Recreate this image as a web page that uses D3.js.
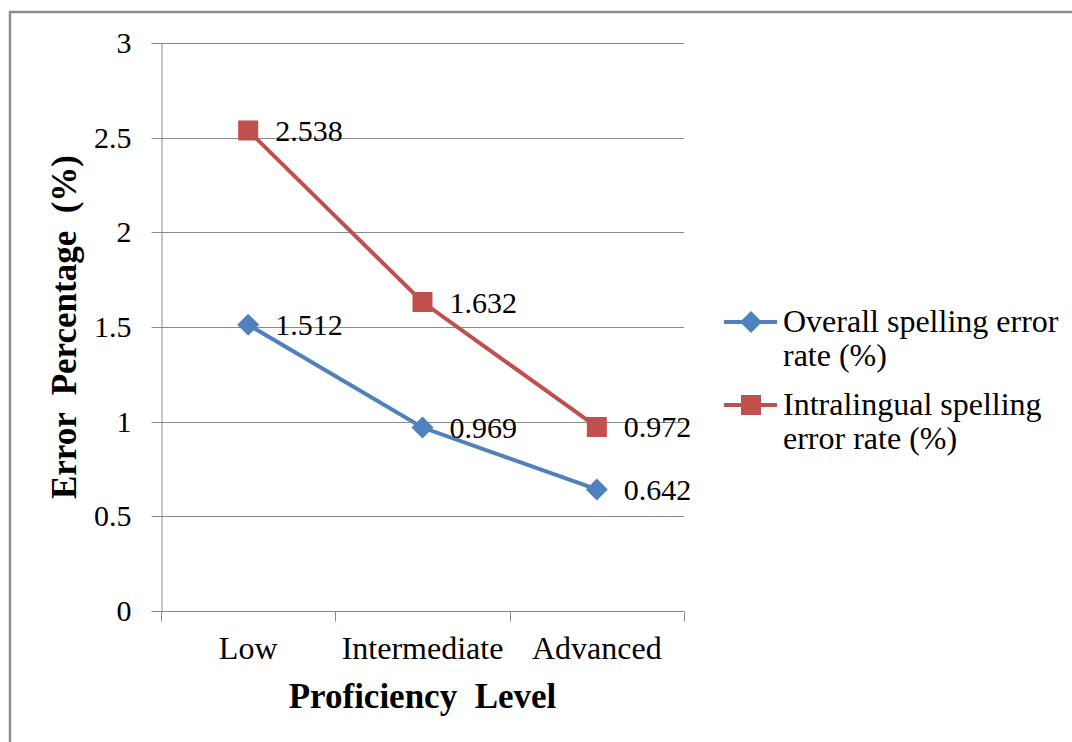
<!DOCTYPE html>
<html>
<head>
<meta charset="utf-8">
<script src="https://cdn.jsdelivr.net/npm/d3@7/dist/d3.min.js"></script>
<style>
  html, body { margin: 0; padding: 0; background: #fff; }
  svg { display: block; }
  text { font-family: "Liberation Serif", "Times New Roman", serif; fill: #000; }
</style>
</head>
<body>
<svg id="chart" width="1072" height="742"></svg>
<script>
const categories = ["Low", "Intermediate", "Advanced"];
const overallValues = [1.512, 0.969, 0.642];
const intralingualValues = [2.538, 1.632, 0.972];
const yTicks = [0, 0.5, 1, 1.5, 2, 2.5, 3];
const yTickLabels = ["0", "0.5", "1", "1.5", "2", "2.5", "3"];
const seriesNames = [["Overall spelling error", "rate (%)"], ["Intralingual spelling", "error rate (%)"]];
const xTitle = "Proficiency  Level";
const yTitle = "Error  Percentage  (%)";

(function () {
const svg = d3.select("#chart");
const W = 1072, H = 742;
const pLeft = 161, pRight = 684, pTop = 43, pBottom = 611;
const blue = "#4F81BD", red = "#C0504D", grid = "#8a8a8a";

svg.append("rect").attr("x", 10).attr("y", 12).attr("width", W + 20).attr("height", H + 20)
  .attr("fill", "#fff").attr("stroke", "#8c8c8c").attr("stroke-width", 2.5);

const x = d3.scaleBand().domain(categories).range([pLeft, pRight]).padding(0);
const y = d3.scaleLinear().domain([0, 3]).range([pBottom, pTop]);

// gridlines
svg.append("g").selectAll("line").data(yTicks.filter(d => d > 0)).join("line")
  .attr("x1", pLeft).attr("x2", pRight)
  .attr("y1", d => Math.round(y(d)) + 0.5).attr("y2", d => Math.round(y(d)) + 0.5)
  .attr("stroke", grid).attr("stroke-width", 1);

// y axis
const yAxis = d3.axisLeft(y).tickValues(yTicks).tickFormat((d, i) => yTickLabels[i]).tickSize(10).tickPadding(20);
const gy = svg.append("g").attr("transform", `translate(${pLeft + 0.5},0)`).call(yAxis);
gy.select(".domain").attr("stroke", grid);
gy.selectAll(".tick line").attr("stroke", grid);
gy.selectAll(".tick").attr("transform", d => `translate(0,${Math.round(y(d)) + 0.5})`);
gy.selectAll("text").attr("font-size", 30).attr("font-family", "Liberation Serif").attr("fill", "#000");

// x axis
const gx = svg.append("g").attr("transform", `translate(0,${pBottom + 0.5})`);
gx.append("line").attr("x1", pLeft).attr("x2", pRight).attr("stroke", grid);
const xTickPos = categories.map(c => x(c)).concat([x(categories[categories.length - 1]) + x.bandwidth()]);
gx.selectAll("line.tk").data(xTickPos).join("line").attr("class", "tk")
  .attr("x1", d => Math.round(d) + 0.5).attr("x2", d => Math.round(d) + 0.5)
  .attr("y1", 0).attr("y2", 10).attr("stroke", grid);
gx.selectAll("text").data(categories).join("text")
  .attr("x", d => x(d) + x.bandwidth() / 2).attr("y", 47)
  .attr("text-anchor", "middle").attr("font-size", 32).text(d => d);

// axis titles
svg.append("text").attr("x", (pLeft + pRight) / 2).attr("y", 708)
  .attr("text-anchor", "middle").attr("font-size", 35).attr("font-weight", "bold")
  .style("white-space", "pre").text(xTitle);
svg.append("text").attr("transform", `translate(76,${(pTop + pBottom) / 2}) rotate(-90)`)
  .attr("text-anchor", "middle").attr("font-size", 35).attr("font-weight", "bold")
  .style("white-space", "pre").text(yTitle);

const series = [
  { name: seriesNames[0], values: overallValues, color: blue, shape: "diamond" },
  { name: seriesNames[1], values: intralingualValues, color: red, shape: "square" }
];

const line = d3.line().x((d, i) => x(categories[i]) + x.bandwidth() / 2).y(d => y(d));

function marker(g, shape, color) {
  if (shape === "diamond") {
    g.append("path").attr("d", "M0,-11L11,0L0,11L-11,0Z").attr("fill", color);
  } else {
    g.append("rect").attr("x", -10).attr("y", -10).attr("width", 20).attr("height", 20).attr("fill", color);
  }
}

series.forEach(s => {
  svg.append("path").datum(s.values).attr("d", line)
    .attr("fill", "none").attr("stroke", s.color).attr("stroke-width", 4);
  s.values.forEach((v, i) => {
    const px = x(categories[i]) + x.bandwidth() / 2, py = y(v);
    const g = svg.append("g").attr("transform", `translate(${px},${py})`);
    marker(g, s.shape, s.color);
    svg.append("text").attr("x", px + 27).attr("y", py).attr("dy", "0.35em")
      .attr("font-size", 30).text(v.toFixed(3));
  });
});

// legend
const legY = [322, 405];
series.forEach((s, k) => {
  const ly = legY[k];
  svg.append("line").attr("x1", 724).attr("x2", 777).attr("y1", ly).attr("y2", ly)
    .attr("stroke", s.color).attr("stroke-width", 4);
  const g = svg.append("g").attr("transform", `translate(751,${ly})`);
  marker(g, s.shape, s.color);
  s.name.forEach((t, j) => {
    svg.append("text").attr("x", 783).attr("y", ly + 10 + j * 34).attr("font-size", 32).text(t);
  });
});
})();
</script>
</body>
</html>
